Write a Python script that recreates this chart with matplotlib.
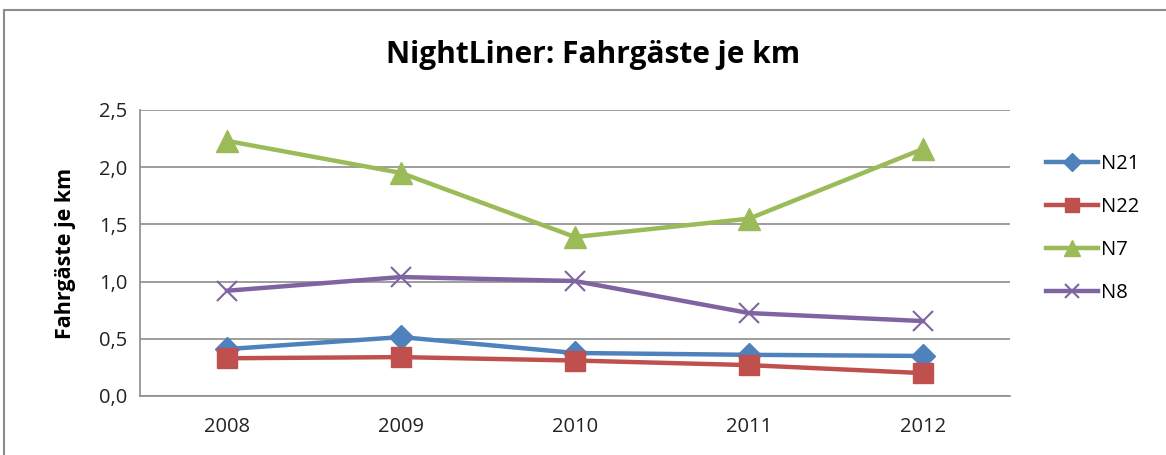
import matplotlib.pyplot as plt
from matplotlib.patches import Rectangle
from matplotlib.ticker import FuncFormatter

# data
years = ['2008', '2009', '2010', '2011', '2012']
n21 = [0.41, 0.515, 0.376, 0.36, 0.35]
n22 = [0.33, 0.34, 0.31, 0.27, 0.20]
n7 = [2.23, 1.95, 1.39, 1.55, 2.16]
n8 = [0.92, 1.04, 1.005, 0.725, 0.655]

plt.rcParams['font.family'] = ['Open Sans', 'DejaVu Sans']

fig = plt.figure(figsize=(11.66, 4.55), dpi=100)
ax = fig.add_axes([140/1166, 1-396/455, 870/1166, 286/455])

# outer chart frame
fig.patches.append(Rectangle((4/1166, -0.2), 1.2, 1.2 - 10/455, transform=fig.transFigure,
                             fill=False, edgecolor='#8c8c8c', linewidth=1.5))

x = range(len(years))
ax.plot(x, n21, color='#4F81BD', lw=3.2, marker='D', ms=12, label='N21')
ax.plot(x, n22, color='#C0504D', lw=3.2, marker='s', ms=14, label='N22')
ax.plot(x, n7, color='#9BBB59', lw=3.2, marker='^', ms=16, label='N7')
ax.plot(x, n8, color='#8064A2', lw=3.2, marker='x', ms=14, mew=1.5, label='N8')

ax.set_xlim(-0.5, 4.5)
ax.set_ylim(0, 2.5)
ax.set_yticks([0, 0.5, 1.0, 1.5, 2.0, 2.5])
ax.yaxis.set_major_formatter(FuncFormatter(lambda v, p: f'{v:.1f}'.replace('.', ',')))
ax.set_xticks(list(x))
ax.set_xticklabels(years)
ax.tick_params(axis='both', labelsize=14.5, length=0, labelcolor='#222222')
ax.tick_params(axis='x', pad=15)
ax.tick_params(axis='y', pad=9)
ax.grid(axis='y', color='#8c8c8c', lw=1.2)
ax.set_axisbelow(True)
for s in ['top', 'right']:
    ax.spines[s].set_visible(False)
for s in ['left', 'bottom']:
    ax.spines[s].set_color('#8c8c8c')
    ax.spines[s].set_linewidth(1.2)

ax.set_ylabel('Fahrgäste je km', fontsize=15.5, fontweight='bold', labelpad=17)
fig.text(593/1166, 1-55/455, 'NightLiner: Fahrgäste je km', fontsize=21.5, fontweight='bold',
         ha='center', va='center')

ax.legend(loc='center left', bbox_to_anchor=(1.02, 0.585), frameon=False, fontsize=14.5,
          labelspacing=1.15, handlelength=2.6, handletextpad=0.15, markerscale=0.75)

fig.savefig('out.png', dpi=100)
